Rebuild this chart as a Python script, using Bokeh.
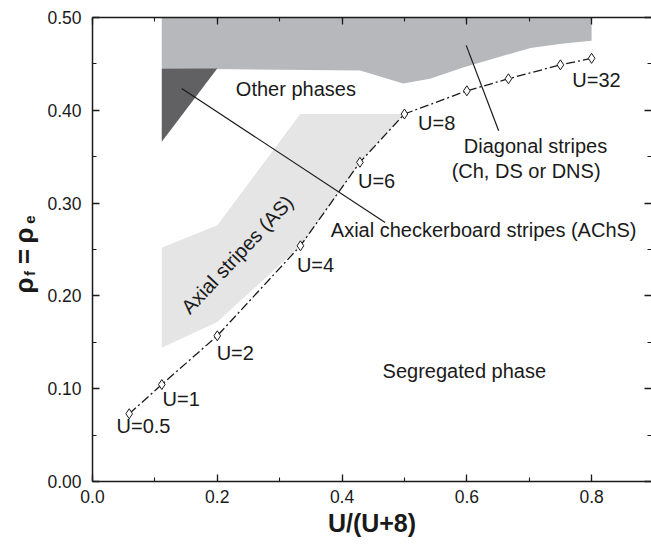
import math
from bokeh.plotting import figure
from bokeh.layouts import row
from bokeh.models import (ColumnDataSource, LinearAxis, SingleIntervalTicker,
                          PrintfTickFormatter, Label, CustomJSTickFormatter, Range1d)
from bokeh.core.properties import value
from bokeh.embed import file_html
from bokeh.resources import INLINE

# ---------------- data ----------------
# phase-boundary points (U/(U+8), rho)
u_values = [0.5, 1, 2, 4, 6, 8, 12, 16, 24, 32]
boundary_x = [0.0588, 0.1111, 0.2, 0.3333, 0.4286, 0.5, 0.6, 0.6667, 0.75, 0.8]
boundary_y = [0.073, 0.1045, 0.157, 0.254, 0.344, 0.396, 0.421, 0.434, 0.449, 0.456]

# labelled points
u_label_text = ["U=0.5", "U=1", "U=2", "U=4", "U=6", "U=8", "U=32"]
u_label_x = [0.0385, 0.1124, 0.199, 0.3276, 0.4255, 0.5219, 0.769]
u_label_y = [0.0598, 0.0884, 0.138, 0.2333, 0.3238, 0.3863, 0.4327]

# phase regions (polygons)
diag_x = [0.111, 0.8, 0.8, 0.755, 0.702, 0.649, 0.594, 0.541, 0.498, 0.429, 0.111]
diag_y = [0.5, 0.5, 0.475, 0.472, 0.467, 0.457, 0.446, 0.434, 0.429, 0.443, 0.445]

achs_x = [0.111, 0.2, 0.111]
achs_y = [0.445, 0.445, 0.366]

as_x = [0.111, 0.2, 0.337, 0.429, 0.5, 0.333, 0.2, 0.111]
as_y = [0.144, 0.172, 0.256, 0.344, 0.396, 0.396, 0.276, 0.252]

# leader lines of annotations
leader_xs = [[0.143, 0.469], [0.599, 0.651]]
leader_ys = [[0.4235, 0.279], [0.470, 0.378]]

# region names
region_text = ["Other phases", "Diagonal stripes", "(Ch, DS or DNS)",
               "Axial checkerboard stripes (AChS)", "Segregated phase"]
region_x = [0.326, 0.710, 0.695, 0.627, 0.596]
region_y = [0.423, 0.362, 0.335, 0.2705, 0.1196]

as_text = "Axial stripes (AS)"
as_pos = (0.232, 0.2446)

# y-axis title pieces: rho_f = rho_e
ylabel_text = ["\u03c1", "f", "=", "\u03c1", "e"]
ylabel_size = ["26px", "15px", "26px", "26px", "15px"]
ylabel_pos = [0.2112, 0.2241, 0.2425, 0.2651, 0.2823]   # along the y axis

FONT = "Liberation Sans"
INK = "#1a1a1a"
W, H = 651, 545
LW = 40  # width of the strip holding the y-axis title

p = figure(width=W - LW, height=H, x_range=(0, 0.896), y_range=(0, 0.5),
           output_backend="svg", toolbar_location=None,
           min_border_left=93 - LW - 1, min_border_right=0, min_border_top=17,
           min_border_bottom=64, background_fill_color="white",
           border_fill_color="white", outline_line_color=None)
p.grid.visible = False

# regions
p.patch(diag_x, diag_y, fill_color="#b7b8bb", line_color=None)
p.patch(as_x, as_y, fill_color="#e5e5e6", line_color=None)
p.patch(achs_x, achs_y, fill_color="#616163", line_color=None)

# leader lines
p.multi_line(leader_xs, leader_ys, line_color=INK, line_width=1.2)

# boundary line + markers
src = ColumnDataSource(dict(x=boundary_x, y=boundary_y, u=u_values))
p.line("x", "y", source=src, line_color=INK, line_width=1.3, line_dash="9 3 2 3")
p.scatter("x", "y", source=src, marker="diamond", size=10, fill_color="white",
          line_color=INK, line_width=1)

# labels
p.text(u_label_x, u_label_y, text=u_label_text, text_font=value(FONT),
       text_font_size="20px", text_align="left", text_baseline="middle",
       text_color=INK)
p.text(region_x, region_y, text=region_text, text_font=value(FONT),
       text_font_size="20px", text_align="center", text_baseline="middle",
       text_color=INK)
p.add_layout(Label(x=as_pos[0], y=as_pos[1], text=as_text, angle=0.82,
                   text_font=FONT, text_font_size="20px", text_align="center",
                   text_baseline="middle", text_color=INK))

# axes
def style_axis(ax):
    ax.axis_line_color = INK
    ax.axis_line_width = 1.5
    ax.major_tick_line_color = INK
    ax.minor_tick_line_color = INK
    ax.major_tick_line_width = 1.3
    ax.minor_tick_line_width = 1.1
    ax.major_tick_in = 7
    ax.major_tick_out = 0
    ax.minor_tick_in = 4
    ax.minor_tick_out = 0
    ax.major_label_text_font = FONT
    ax.major_label_text_font_size = "17.5px"
    ax.major_label_text_color = INK

xax = p.xaxis[0]
xax.ticker = SingleIntervalTicker(interval=0.2, num_minor_ticks=2)
xax.formatter = PrintfTickFormatter(format="%.1f")
style_axis(xax)
xax.major_label_standoff = 8
xax.axis_label = "U/(U+8)"
xax.axis_label_text_font = FONT
xax.axis_label_text_font_style = "bold"
xax.axis_label_text_font_size = "25px"
xax.axis_label_text_color = INK
xax.axis_label_standoff = 3

yax = p.yaxis[0]
yax.ticker = SingleIntervalTicker(interval=0.1, num_minor_ticks=2)
yax.formatter = PrintfTickFormatter(format="%.2f")
style_axis(yax)
yax.major_label_standoff = 11

blank = CustomJSTickFormatter(code="return ''")
top = LinearAxis(ticker=SingleIntervalTicker(interval=0.2, num_minor_ticks=2),
                 formatter=blank)
style_axis(top)
top.major_label_text_font_size = "0px"
top.major_label_standoff = 0
p.add_layout(top, "above")

right = LinearAxis(ticker=SingleIntervalTicker(interval=0.1, num_minor_ticks=2),
                   formatter=blank)
style_axis(right)
right.axis_line_color = None
right.major_label_text_font_size = "0px"
right.major_label_standoff = 0
p.add_layout(right, "right")

# strip with the rotated y-axis title; shares the y range of the main plot
q = figure(width=LW, height=H, x_range=Range1d(0, LW), y_range=p.y_range,
           output_backend="svg", toolbar_location=None,
           x_axis_location=None, y_axis_location=None,
           min_border=0, min_border_top=17, min_border_bottom=64,
           outline_line_color=None,
           background_fill_color="white", border_fill_color="white")
q.grid.visible = False
yl_x = [23, 29, 23, 23, 29]
q.text(yl_x, ylabel_pos, text=ylabel_text, angle=math.pi / 2,
       text_font=value(FONT), text_font_style="bold",
       text_font_size=ylabel_size, text_align="center",
       text_baseline="alphabetic", text_color=INK)

layout = row(q, p, spacing=0)
open("out.html", "w").write(file_html(layout, INLINE))
